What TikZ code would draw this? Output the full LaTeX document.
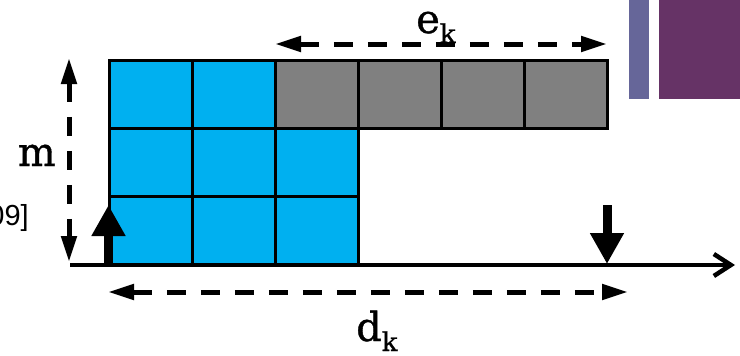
\documentclass[tikz,border=0pt]{standalone}
\usepackage{fontspec}
\setmainfont{Liberation Sans}
\newfontfamily\lblfont[FakeBold=1]{DejaVu Serif}
\usepackage{xcolor}
\usetikzlibrary{positioning, arrows.meta, calc}
\definecolor{CellBlue}{HTML}{00B0F0}
\definecolor{CellGray}{HTML}{808080}
\definecolor{BarBlue}{HTML}{666699}
\definecolor{BarPlum}{HTML}{663366}
\newcommand{\sublbl}[2]{{\lblfont\fontsize{40pt}{40pt}\selectfont #1}{\lblfont\fontsize{26pt}{26pt}\selectfont\raisebox{-10pt}{#2}}}

\begin{document}
\begin{tikzpicture}[
      x=1pt, y=-1pt,
      cell/.style={
        draw=black, line width=3pt, minimum width=83pt, minimum height=68pt,
        inner sep=0pt, outer sep=0pt
      },
      dim/.style={{Triangle[length=26pt,width=15pt]}-{Triangle[length=26pt,width=15pt]},
        line width=5pt, dash pattern=on 19pt off 15pt},
      pointer/.style={-{Triangle[length=31pt,width=32pt]}, line width=9pt},
      axis/.style={-{Straight Barb[length=17pt,width=22pt]}, line width=4.5pt},
      lbl/.style={inner sep=0pt, text=black}
    ]
      \useasboundingbox (0,0) rectangle (740,356);
      % bars top right
      \fill[BarBlue] (629,0) rectangle (649,99);
      \fill[BarPlum] (659,0) rectangle (740,99);
      % cells
      \foreach \col/\row/\shade in {0/0/CellBlue, 1/0/CellBlue, 2/0/CellGray, 3/0/CellGray, 4/0/CellGray, 5/0/CellGray,
                                    0/1/CellBlue, 1/1/CellBlue, 2/1/CellBlue,
                                    0/2/CellBlue, 1/2/CellBlue, 2/2/CellBlue}{
        \node[cell, fill=\shade] (c\col\row) at ({150.5+83*\col},{94+68*\row}) {};
      }
      % axis and dimensions
      \coordinate (origin) at (70,265);
      \coordinate (axisend) at (735,265);
      \draw[axis] (origin) -- (axisend);
      \coordinate (m-top) at (69,58);
      \coordinate (m-bot) at (69,262);
      \draw[dim] (m-top) -- (m-bot);
      \coordinate (ek-l) at (275,44);
      \coordinate (ek-r) at (607,44);
      \draw[dim] (ek-l) -- (ek-r);
      \coordinate (dk-l) at (108,292);
      \coordinate (dk-r) at (628,292);
      \draw[dim] (dk-l) -- (dk-r);
      % pointers
      \coordinate (up-from) at (108.5,265);
      \coordinate (up-to) at (108.5,205);
      \draw[pointer] (up-from) -- (up-to);
      \coordinate (down-from) at (607,205);
      \coordinate (down-to) at (607,264);
      \draw[pointer] (down-from) -- (down-to);
      % labels
      \node[lbl, anchor=base east] (m) at (56,166) {\lblfont\fontsize{40pt}{40pt}\selectfont m};
      \node[lbl, anchor=base west] (ek) at (416,33) {\sublbl{e}{k}};
      \node[lbl, anchor=base west] (dk) at (356,341) {\sublbl{d}{k}};
      \node[lbl, anchor=base east] (cite) at (29,225) {\fontsize{29pt}{29pt}\selectfont 09]};
    \end{tikzpicture}
\end{document}
